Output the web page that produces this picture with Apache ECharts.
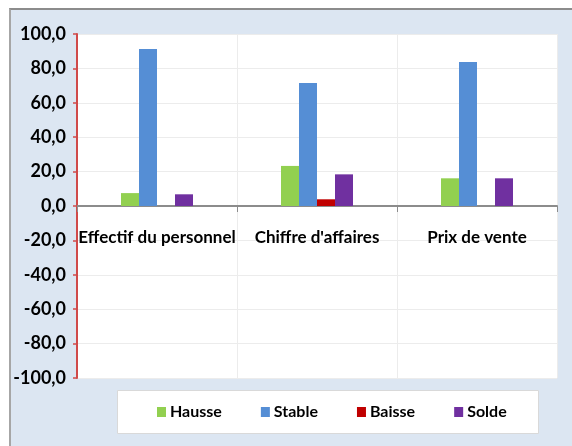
<!DOCTYPE html>
<html>
<head>
<meta charset="utf-8">
<script src="https://cdn.jsdelivr.net/npm/echarts@6/dist/echarts.min.js"></script>
<style>
  html, body { margin: 0; padding: 0; background: #fff; }
  #frame {
    position: absolute; left: 9px; top: 8px; width: 563px; height: 438px;
    background: #dce6f2; border-top: 2px solid #8c8c8c; border-left: 2px solid #a6a6a6;
    box-sizing: border-box;
  }
  #main { position: absolute; left: 0; top: 0; width: 572px; height: 446px; }
</style>
</head>
<body>
<div id="frame"></div>
<div id="main"></div>
<script>
// categories et valeurs (%)
const categories = ['Effectif du personnel', "Chiffre d'affaires", 'Prix de vente']
const hausse = [7.5, 23.3, 16.1]
const stable = [91.3, 71.5, 83.7]
const baisse = [0, 3.9, 0]
const solde = [6.8, 18.4, 16.1]
const seriesNames = ['Hausse', 'Stable', 'Baisse', 'Solde']
const colors = ['#92d050', '#558ed5', '#c00000', '#7030a0']

const font = 'Lato, "Liberation Sans", sans-serif'

const chart = echarts.init(document.getElementById('main'))

function bar(name, data, color) {
  return {
    name: name,
    type: 'bar',
    barGap: '0%',
    barCategoryGap: '55%',
    itemStyle: { color: color },
    data: data
  }
}

chart.setOption({
  animation: false,
  backgroundColor: 'transparent',
  textStyle: { fontFamily: font },
  grid: {
    left: 77,
    right: 15,
    top: 34,
    bottom: 68,
    show: true,
    backgroundColor: '#fff',
    borderWidth: 0
  },
  // cadre blanc de la légende
  graphic: [{
    type: 'rect',
    z: -1,
    shape: { x: 117.5, y: 390.5, width: 421, height: 43 },
    style: { fill: '#fff', stroke: '#d9d9d9', lineWidth: 1 }
  }],
  legend: {
    data: seriesNames,
    left: 157,
    top: 404,
    padding: 0,
    itemGap: 39,
    itemWidth: 9,
    itemHeight: 10,
    icon: 'rect',
    textStyle: { fontSize: 16, fontWeight: 'bold', color: '#000', fontFamily: font, padding: [0, 0, 0, -1] }
  },
  xAxis: {
    type: 'category',
    data: categories,
    position: 'bottom',
    offset: -172,
    axisLine: { onZero: false, lineStyle: { color: '#8c8c8c', width: 2 } },
    axisTick: { show: true, length: 6, interval: 0, lineStyle: { color: '#8c8c8c' } },
    splitLine: { show: true, interval: 0, lineStyle: { color: '#ececec' } },
    axisLabel: {
      interval: 0,
      margin: 23,
      fontSize: 17,
      fontWeight: 'bold',
      color: '#000',
      fontFamily: font
    }
  },
  yAxis: {
    type: 'value',
    min: -100,
    max: 100,
    interval: 20,
    axisLine: { show: true, lineStyle: { color: '#d04a4a', width: 2 } },
    axisTick: { show: true, length: 4, lineStyle: { color: '#d04a4a', width: 1.5 } },
    splitLine: { lineStyle: { color: '#ececec' } },
    axisLabel: {
      margin: 11,
      fontSize: 18,
      fontWeight: 'bold',
      color: '#000',
      fontFamily: font,
      formatter: function (v) { return v.toFixed(1).replace('.', ',') }
    }
  },
  series: [
    bar('Hausse', hausse, colors[0]),
    bar('Stable', stable, colors[1]),
    bar('Baisse', baisse, colors[2]),
    bar('Solde', solde, colors[3])
  ]
})
</script>
</body>
</html>
